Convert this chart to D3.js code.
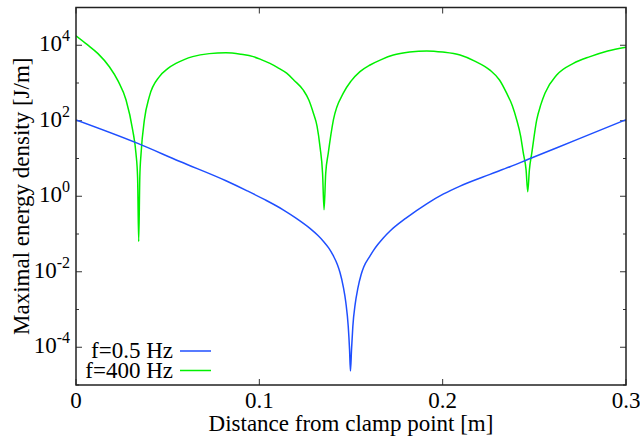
<!DOCTYPE html>
<html><head><meta charset="utf-8">
<script src="https://cdn.jsdelivr.net/npm/d3@7"></script>
<style>body{margin:0;background:#fff}svg{display:block}text{font-family:"Liberation Serif","Times New Roman",serif;fill:#000}</style>
</head><body><svg id="c" width="640" height="437"></svg>
<script>
// ---- data ----
const xTicks = [0, 0.1, 0.2, 0.3];
const xTickLabels = ["0", "0.1", "0.2", "0.3"];
const yMajorExps = [-4, -2, 0, 2, 4];
const yMinorExps = [-5, -3, -1, 1, 3, 5];
const seriesNames = ["f=0.5 Hz", "f=400 Hz"];
const seriesColors = ["#1f4fff", "#00f000"];

const blueX = [0, 0.0337, 0.0567, 0.0818, 0.0931, 0.103, 0.113, 0.12, 0.1276, 0.132, 0.1349, 0.138, 0.1404, 0.1425, 0.144, 0.1458, 0.1472, 0.1485, 0.1492, 0.1497, 0.1503, 0.151, 0.1523, 0.1537, 0.1555, 0.157, 0.1604, 0.1622, 0.1646, 0.1675, 0.1713, 0.18, 0.1913, 0.2005, 0.2095, 0.2258, 0.2367, 0.2467, 0.2732, 0.3];
const blueY = [105, 25.1, 8.32, 2.57, 1.41, 0.81, 0.437, 0.263, 0.141, 0.0912, 0.0646, 0.0417, 0.0263, 0.0158, 0.00955, 0.00398, 0.00151, 0.000355, 0.0000891, 0.0000234, 0.0000891, 0.000355, 0.00141, 0.00355, 0.00832, 0.0135, 0.0263, 0.0363, 0.0525, 0.0776, 0.120, 0.263, 0.631, 1.15, 1.86, 3.80, 6.03, 9.55, 31.6, 107];

const greenX = [0, 0.006, 0.012, 0.0182, 0.023, 0.0273, 0.0309, 0.0327, 0.0336, 0.0342, 0.0348, 0.0355, 0.0373, 0.04, 0.0455, 0.05, 0.0545, 0.059, 0.0636, 0.0727, 0.0818, 0.09, 0.0967, 0.101, 0.1058, 0.11, 0.1149, 0.119, 0.124, 0.127, 0.1295, 0.1315, 0.1331, 0.1345, 0.1353, 0.1362, 0.1376, 0.1404, 0.1458, 0.15, 0.1549, 0.1604, 0.1665, 0.1731, 0.182, 0.1913, 0.2, 0.2095, 0.2175, 0.2258, 0.231, 0.2349, 0.238, 0.2404, 0.2425, 0.244, 0.2455, 0.2464, 0.2473, 0.2486, 0.2513, 0.2535, 0.2558, 0.2622, 0.2713, 0.2804, 0.29, 0.3];
const greenY = [17800, 10500, 6000, 2700, 1120, 355, 57.5, 13.8, 3.16, 0.063, 3.16, 13.8, 105, 437, 1480, 2400, 3300, 4170, 5000, 6000, 6300, 5750, 5000, 4170, 3300, 2570, 1820, 1170, 645, 355, 158, 71, 20.4, 4.0, 0.44, 4.0, 13.8, 105, 537, 1120, 2000, 3000, 4170, 5500, 6600, 7080, 6600, 5500, 3800, 2190, 1200, 537, 250, 105, 40, 13.8, 5.0, 1.32, 5.0, 13.8, 105, 263, 537, 1620, 3300, 5000, 7080, 8900];

// ---- layout ----
const L = 76, R = 626, T = 7.5, B = 385;
const FS = 23;
const svg = d3.select("#c");
const x = d3.scaleLinear().domain([0, 0.3]).range([L, R]);
const y = d3.scaleLog().domain([1e-5, 1e5]).range([B, T]);

svg.append("defs").append("clipPath").attr("id", "clip")
  .append("rect").attr("x", L).attr("y", T).attr("width", R - L).attr("height", B - T);

// ticks (inside, mirrored)
const tk = svg.append("g").attr("stroke", "#333").attr("stroke-width", 1);
xTicks.forEach(v => {
  tk.append("line").attr("x1", x(v)).attr("x2", x(v)).attr("y1", B).attr("y2", B - 6);
  tk.append("line").attr("x1", x(v)).attr("x2", x(v)).attr("y1", T).attr("y2", T + 6);
});
yMajorExps.forEach(e => {
  const yy = y(Math.pow(10, e));
  tk.append("line").attr("x1", L).attr("x2", L + 6).attr("y1", yy).attr("y2", yy);
  tk.append("line").attr("x1", R).attr("x2", R - 6).attr("y1", yy).attr("y2", yy);
});
yMinorExps.forEach(e => {
  const yy = y(Math.pow(10, e));
  tk.append("line").attr("x1", L).attr("x2", L + 3).attr("y1", yy).attr("y2", yy);
  tk.append("line").attr("x1", R).attr("x2", R - 3).attr("y1", yy).attr("y2", yy);
});

// tick labels
xTicks.forEach((v, i) => {
  svg.append("text").attr("x", x(v)).attr("y", 408).attr("text-anchor", "middle")
    .attr("font-size", FS).text(xTickLabels[i]);
});
yMajorExps.forEach(e => {
  const yy = y(Math.pow(10, e));
  const t = svg.append("text").attr("x", 70).attr("y", yy + 6).attr("text-anchor", "end").attr("font-size", FS);
  t.append("tspan").text("10");
  t.append("tspan").attr("font-size", 16).attr("dy", -10).text(String(e));
});

// axis titles
svg.append("text").attr("x", (L + R) / 2).attr("y", 431).attr("text-anchor", "middle")
  .attr("font-size", FS).text("Distance from clamp point [m]");
svg.append("text").attr("transform", `translate(29,${(T + B) / 2}) rotate(-90)`)
  .attr("text-anchor", "middle").attr("font-size", FS).text("Maximal energy density [J/m]");

// curves
const line = d3.line().x(d => x(d[0])).y(d => y(d[1])).curve(d3.curveMonotoneX);
const g = svg.append("g").attr("clip-path", "url(#clip)");
g.append("path").datum(greenX.map((v, i) => [v, greenY[i]]))
  .attr("fill", "none").attr("stroke", seriesColors[1]).attr("stroke-width", 1.5).attr("d", line);
g.append("path").datum(blueX.map((v, i) => [v, blueY[i]]))
  .attr("fill", "none").attr("stroke", seriesColors[0]).attr("stroke-width", 1.5).attr("d", line);

// frame
svg.append("rect").attr("x", L).attr("y", T).attr("width", R - L).attr("height", B - T)
  .attr("fill", "none").attr("stroke", "#222").attr("stroke-width", 1.5);

// legend
const legY = [351, 370.5];
seriesNames.forEach((n, i) => {
  svg.append("text").attr("x", 173).attr("y", legY[i] + 7).attr("text-anchor", "end")
    .attr("font-size", FS).text(n);
  svg.append("line").attr("x1", 180).attr("x2", 211).attr("y1", legY[i]).attr("y2", legY[i])
    .attr("stroke", seriesColors[i]).attr("stroke-width", 1.5);
});
</script></body></html>
